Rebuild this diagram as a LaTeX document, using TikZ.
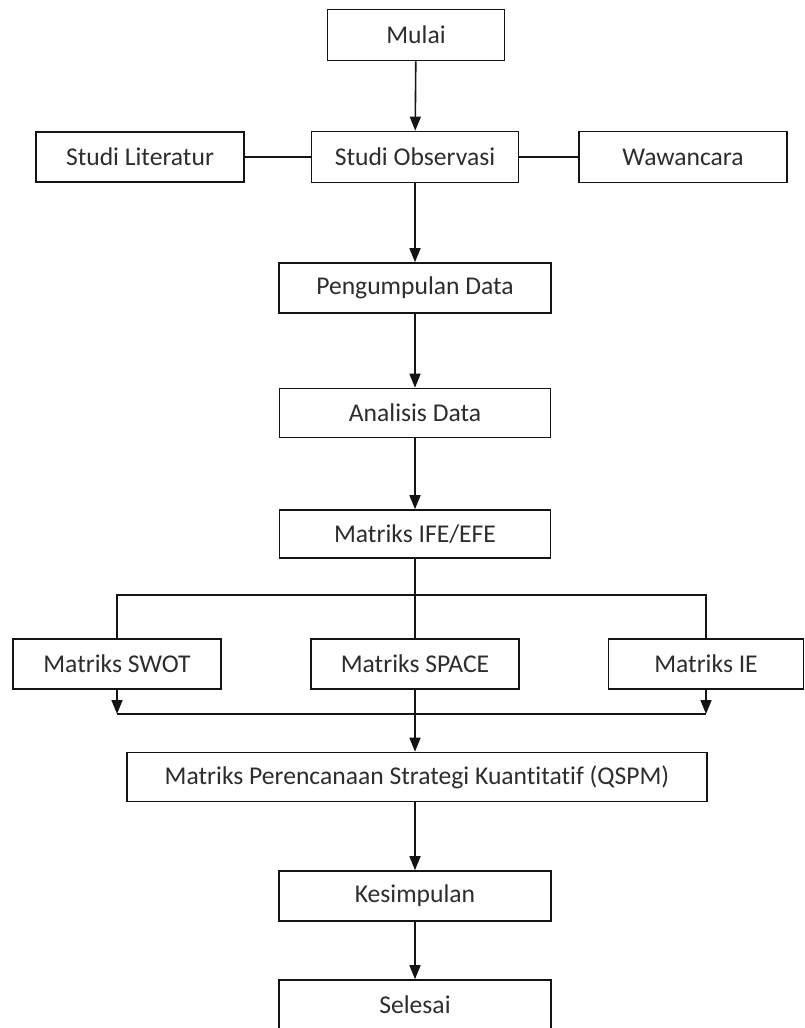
\documentclass[tikz,border=0pt]{standalone}
\usepackage{fontspec}
\setmainfont{Carlito}[RawFeature={-liga;-dlig;-clig}]
\usepackage{tikz}
\usetikzlibrary{arrows.meta}
\definecolor{cb}{RGB}{20,20,20}
\definecolor{cbt}{RGB}{45,45,45}
\tikzstyle{box}=[cbt, draw=cb, line width=0.8pt, font=\fontsize{12.8}{15}\selectfont, inner sep=0pt]
\tikzstyle{arrow}=[cb, line width=0.8pt, ->, >={Triangle[width=5.5pt,length=7pt]}]
\tikzstyle{link}=[cb, line width=0.8pt]

\begin{document}
\begin{tikzpicture}[x=0.5pt, y=-0.5pt]
  \useasboundingbox (0,0) rectangle (804,1028);
  % main column
  \node [box, minimum width=88.5pt, minimum height=25.5pt] (mulai) at (416,35) {Mulai};
  \node [box, minimum width=103.5pt, minimum height=25.5pt] (studi-obs) at (415,157) {Studi Observasi};
  \node [box, minimum width=104pt, minimum height=25pt] (studi-lit) at (140,157) {Studi Literatur};
  \node [box, minimum width=104pt, minimum height=25.5pt] (wawancara) at (683,157) {Wawancara};
  \node [box, minimum width=136pt, minimum height=25pt] (pengumpulan) at (415,288) {Pengumpulan Data};
  \node [box, minimum width=135.5pt, minimum height=24.5pt] (analisis) at (415,413) {Analisis Data};
  \node [box, minimum width=135.5pt, minimum height=24pt] (ife) at (415,534) {Matriks IFE/EFE};
  % matrices
  \node [box, minimum width=104pt, minimum height=25pt] (swot) at (117,664) {Matriks SWOT};
  \node [box, minimum width=104pt, minimum height=25pt] (space) at (415,664) {Matriks SPACE};
  \node [box, minimum width=97.5pt, minimum height=25pt] (ie) at (706,664) {Matriks IE};
  \node [box, minimum width=290pt, minimum height=24.5pt] (qspm) at (417,777) {Matriks Perencanaan Strategi Kuantitatif (QSPM)};
  \node [box, minimum width=136pt, minimum height=25pt] (kesimpulan) at (415,896) {Kesimpulan};
  \node [box, minimum width=136pt, minimum height=25pt] (selesai) at (415,1005) {Selesai};

  \coordinate (split) at (415,595);
  \coordinate (merge) at (415,714);

  \draw [arrow] (mulai) -- (studi-obs);
  \draw [link] (studi-lit) -- (studi-obs);
  \draw [link] (studi-obs) -- (wawancara);
  \draw [arrow] (studi-obs) -- (pengumpulan);
  \draw [arrow] (pengumpulan) -- (analisis);
  \draw [arrow] (analisis) -- (ife);

  \draw [link] (ife) -- (split);
  \draw [link] (swot.north) |- (split) -| (ie.north);
  \draw [link] (split) -- (space);
  \draw [arrow] (swot) -- (swot |- merge);
  \draw [arrow] (ie) -- (ie |- merge);
  \draw [link] (swot |- merge) -- (ie |- merge);
  \draw [arrow] (space) -- (space |- qspm.north);
  \draw [arrow] (qspm.south -| kesimpulan) -- (kesimpulan);
  \draw [arrow] (kesimpulan) -- (selesai);
\end{tikzpicture}
\end{document}
